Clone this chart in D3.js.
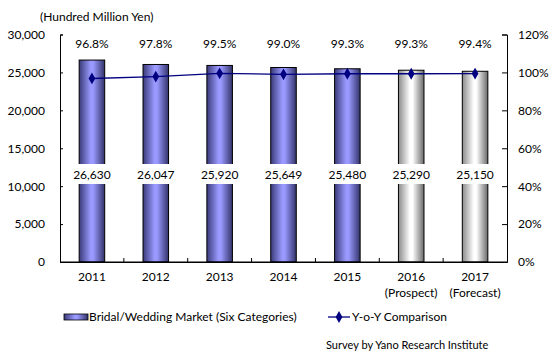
<!DOCTYPE html>
<html><head><meta charset="utf-8">
<script src="https://cdn.jsdelivr.net/npm/d3@7"></script>
<style>
html,body{margin:0;padding:0;background:#fff;}
svg{display:block;font-family:Lato,"DejaVu Sans",sans-serif;}
</style></head>
<body>
<svg id="chart" width="557" height="358"></svg>
<script>
const years = ["2011","2012","2013","2014","2015","2016","2017"];
const yearNotes = ["","","","","","(Prospect)","(Forecast)"];
const marketValues = [26630, 26047, 25920, 25649, 25480, 25290, 25150];
const yoyValues = [96.8, 97.8, 99.5, 99.0, 99.3, 99.3, 99.4];
const isEstimate = [false,false,false,false,false,true,true];
const leftTicks = [0,5000,10000,15000,20000,25000,30000];
const rightTicks = [0,20,40,60,80,100,120];
const unitLabel = "(Hundred Million Yen)";
const legendBar = "Bridal/Wedding Market (Six Categories)";
const legendLine = "Y-o-Y Comparison";
const source = "Survey by Yano Research Institute";

const svg = d3.select("#chart");
const L = 60, R = 507, T = 34.5, B = 262;
const fs = 12;

const defs = svg.append("defs");
function grad(id, stops){
  const g = defs.append("linearGradient").attr("id", id).attr("x1","0").attr("x2","1").attr("y1","0").attr("y2","0");
  stops.forEach(s => g.append("stop").attr("offset", s[0]).attr("stop-color", s[1]));
}
grad("gBlue", [[0,"#3a3a78"],[0.45,"#9999ff"],[0.55,"#9999ff"],[1,"#33336a"]]);
grad("gGrey", [[0,"#8a8a8a"],[0.45,"#ffffff"],[0.55,"#ffffff"],[1,"#6a6a6a"]]);

const x = d3.scaleBand().domain(years).range([L, R]).paddingInner(0.6).paddingOuter(0.3);
const xb = d3.scaleBand().domain(years).range([L, R]);
const y = d3.scaleLinear().domain([0, 30000]).range([B, T]);
const y2 = d3.scaleLinear().domain([0, 120]).range([B, T]);

// bars
svg.append("g").selectAll("rect").data(years).join("rect")
  .attr("x", d => x(d)).attr("width", x.bandwidth())
  .attr("y", (d,i) => y(marketValues[i])).attr("height", (d,i) => B - y(marketValues[i]))
  .attr("fill", (d,i) => isEstimate[i] ? "url(#gGrey)" : "url(#gBlue)")
  .attr("stroke", "#000").attr("stroke-width", 1);

// axes
const axL = svg.append("g").attr("transform", `translate(${L},0)`)
  .call(d3.axisLeft(y).tickValues(leftTicks).tickSize(-3).tickPadding(15).tickFormat(d3.format(",")));
const axR = svg.append("g").attr("transform", `translate(${R},0)`)
  .call(d3.axisRight(y2).tickValues(rightTicks).tickSize(-5).tickPadding(11).tickFormat(d => d + "%"));
const axB = svg.append("g").attr("transform", `translate(0,${B})`)
  .call(d3.axisBottom(xb).tickSize(0).tickPadding(10));
[axL, axR, axB].forEach(a => {
  a.select(".domain").attr("stroke", "#000");
  a.selectAll("line").attr("stroke", "#000");
  a.selectAll("text").attr("font-size", fs).attr("font-family", "Lato,'DejaVu Sans',sans-serif").attr("fill", "#000");
});
axR.selectAll("text").attr("text-anchor", "start");
axR.selectAll(".tick text").attr("x", 11);
// x-axis boundary ticks
svg.append("g").selectAll("line").data(years.slice(1)).join("line")
  .attr("x1", d => xb(d)).attr("x2", d => xb(d)).attr("y1", B).attr("y2", B - 4)
  .attr("stroke", "#000");
svg.append("line").attr("x1", L).attr("x2", R).attr("y1", B).attr("y2", B).attr("stroke","#000");
// second line of x labels
svg.append("g").selectAll("text").data(years).join("text")
  .attr("x", d => xb(d) + xb.bandwidth()/2).attr("y", B + 35)
  .attr("text-anchor", "middle").attr("font-size", fs)
  .text((d,i) => yearNotes[i]);

// unit label
svg.append("text").attr("x", 40).attr("y", 21).attr("font-size", fs).text(unitLabel);

// value labels with white boxes
const vl = svg.append("g");
years.forEach((d,i) => {
  const cx = x(d) + x.bandwidth()/2;
  const t = vl.append("text").attr("x", cx).attr("y", 179).attr("text-anchor","middle")
    .attr("font-size", fs).text(d3.format(",")(marketValues[i]));
  const bb = t.node().getBBox();
  vl.insert("rect", "text").attr("x", bb.x - 3).attr("y", 164).attr("width", bb.width + 6).attr("height", 20).attr("fill", "#fff");
});

// line
const line = d3.line().x((d,i) => x(years[i]) + x.bandwidth()/2).y(d => y2(d));
svg.append("path").datum(yoyValues).attr("d", line).attr("fill","none").attr("stroke","#000080").attr("stroke-width",1.3);
svg.append("g").selectAll("path").data(yoyValues).join("path")
  .attr("transform", (d,i) => `translate(${x(years[i]) + x.bandwidth()/2},${y2(d)})`)
  .attr("d", d3.symbol().type(d3.symbolDiamond).size(40)).attr("fill","#000080");

// pct labels
svg.append("g").selectAll("text").data(yoyValues).join("text")
  .attr("x", (d,i) => x(years[i]) + x.bandwidth()/2).attr("y", 48)
  .attr("text-anchor","middle").attr("font-size", fs).text(d => d.toFixed(1) + "%");

// legend
const lg = svg.append("g");
lg.append("rect").attr("x", 64).attr("y", 314).attr("width", 24).attr("height", 6)
  .attr("fill", "url(#gBlue)").attr("stroke","#000").attr("stroke-width",0.8);
lg.append("text").attr("x", 89).attr("y", 321).attr("font-size", fs).text(legendBar);
lg.append("line").attr("x1", 328).attr("x2", 350).attr("y1", 317).attr("y2", 317).attr("stroke","#000080").attr("stroke-width",1.3);
lg.append("path").attr("transform","translate(339,317)").attr("d", d3.symbol().type(d3.symbolDiamond).size(40)).attr("fill","#000080");
lg.append("text").attr("x", 352).attr("y", 321).attr("font-size", fs).text(legendLine);
svg.append("text").attr("x", 326).attr("y", 349).attr("font-size", 11).text(source);
</script>
</body></html>
